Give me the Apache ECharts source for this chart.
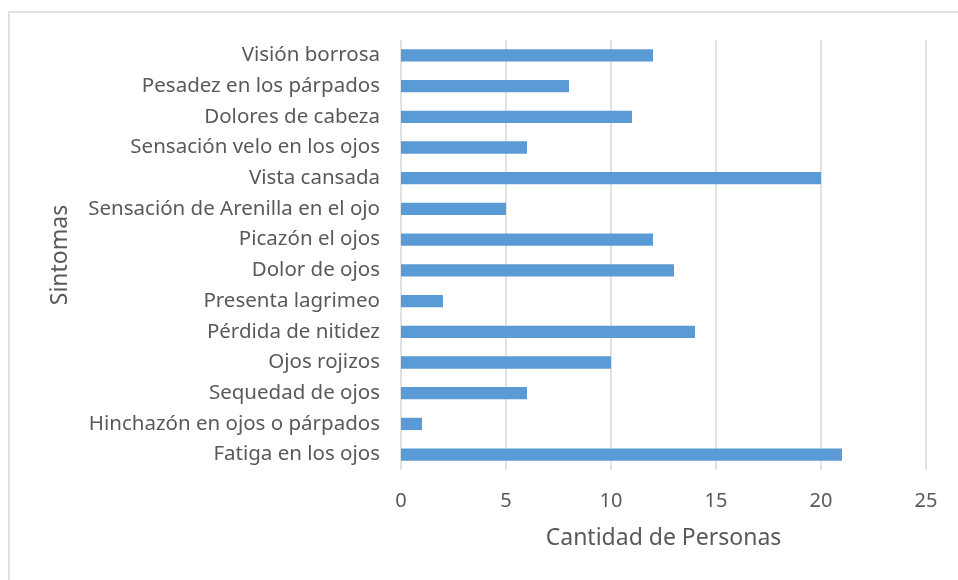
<!DOCTYPE html>
<html><head><meta charset="utf-8">
<script src="https://cdn.jsdelivr.net/npm/echarts@6/dist/echarts.min.js"></script>
<style>html,body{margin:0;padding:0;background:#fff}#c{width:958px;height:580px}</style>
</head><body><div id="c"></div>
<script>
const categories = ["Visión borrosa","Pesadez en los párpados","Dolores de cabeza","Sensación velo en los ojos","Vista cansada","Sensación de Arenilla en el ojo","Picazón el ojos","Dolor de ojos","Presenta lagrimeo","Pérdida de nitidez","Ojos rojizos","Sequedad de ojos","Hinchazón en ojos o párpados","Fatiga en los ojos"];
const values = [12,8,11,6,20,5,12,13,2,14,10,6,1,21];
const xTicks = [0,5,10,15,20,25];
const xAxisTitle = "Cantidad de Personas";
const yAxisTitle = "Sintomas";

const chart = echarts.init(document.getElementById('c'));
const font = "'Noto Sans', 'Open Sans', sans-serif";
chart.setOption({
  animation:false,
  graphic:[{type:'rect',shape:{x:9,y:12,width:980,height:600},style:{fill:'none',stroke:'#d9d9d9',lineWidth:1.5},silent:true}],
  grid:{left:401,right:32,top:40,bottom:110},
  xAxis:{type:'value',min:xTicks[0],max:xTicks[xTicks.length-1],interval:5,
    name:xAxisTitle,nameLocation:'middle',nameGap:57,
    nameTextStyle:{fontFamily:font,fontSize:23,color:'#595959'},
    axisLabel:{fontFamily:font,fontSize:20,color:'#595959',margin:21},
    axisLine:{show:false},axisTick:{show:false},
    splitLine:{lineStyle:{color:'#d9d9d9',width:1.5}}},
  yAxis:{type:'category',data:categories,inverse:true,
    name:yAxisTitle,nameLocation:'middle',nameGap:329,nameRotate:90,
    nameTextStyle:{fontFamily:font,fontSize:23,color:'#595959'},
    axisLabel:{fontFamily:font,fontSize:20.5,color:'#595959',margin:21},
    axisLine:{show:false},axisTick:{show:false}},
  series:[{type:'bar',data:values,barCategoryGap:'60%',itemStyle:{color:'#5b9bd5'}}]
});
</script></body></html>
